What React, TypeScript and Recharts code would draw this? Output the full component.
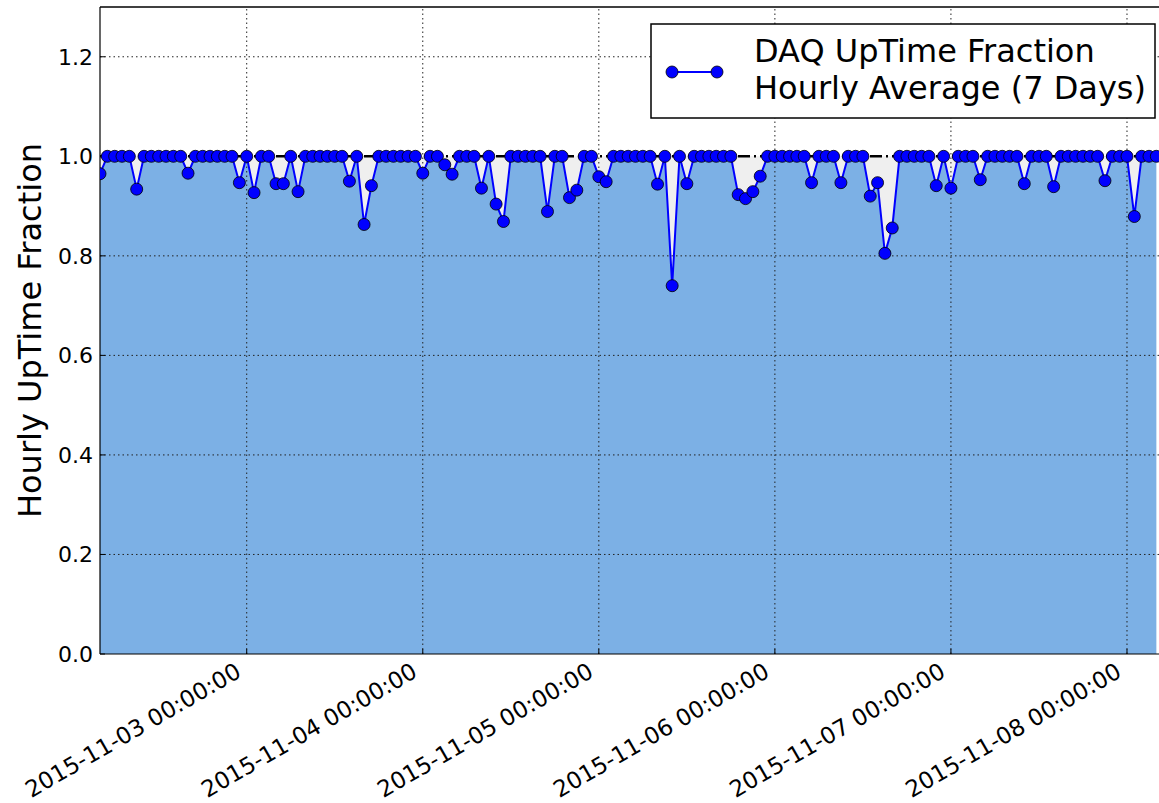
import { Area, ComposedChart, Line, ReferenceLine, XAxis, YAxis } from 'recharts'

// hourly bins starting 2015-11-02 04:00
const uptime = [
  0.965, 1, 1, 1, 1, 0.934, 1, 1, 1, 1, 1, 1, 0.966, 1, 1, 1, 1, 1, 1, 0.947,
  1, 0.927, 1, 1, 0.945, 0.945, 1, 0.929, 1, 1, 1, 1, 1, 1, 0.95, 1,
  0.863, 0.941, 1, 1, 1, 1, 1, 1, 0.966, 1, 1, 0.983, 0.964, 1, 1, 1,
  0.936, 1, 0.904, 0.869, 1, 1, 1, 1, 1, 0.889, 1, 1, 0.917, 0.932, 1, 1,
  0.959, 0.949, 1, 1, 1, 1, 1, 1, 0.944, 1, 0.74, 1, 0.945, 1, 1, 1,
  1, 1, 1, 0.923, 0.915, 0.929, 0.96, 1, 1, 1, 1, 1, 1, 0.947, 1, 1,
  1, 0.947, 1, 1, 1, 0.92, 0.947, 0.805, 0.856, 1, 1, 1, 1, 1, 0.941, 1,
  0.936, 1, 1, 1, 0.953, 1, 1, 1, 1, 1, 0.945, 1, 1, 1, 0.939, 1,
  1, 1, 1, 1, 1, 0.951, 1, 1, 1, 0.879, 1, 1, 1,
]

const dayTicks = [20, 44, 68, 92, 116, 140]
const dayLabels = [
  '2015-11-03 00:00:00',
  '2015-11-04 00:00:00',
  '2015-11-05 00:00:00',
  '2015-11-06 00:00:00',
  '2015-11-07 00:00:00',
  '2015-11-08 00:00:00',
]
const yTicks = [0, 0.2, 0.4, 0.6, 0.8, 1.0, 1.2]
const gridY = [0.2, 0.4, 0.6, 0.8, 1.2]
const legendLines = ['DAQ UpTime Fraction', 'Hourly Average (7 Days)']

const font = 'DejaVu Sans, sans-serif'

const data = uptime.map((v, h) => ({ h, v, full: 1 }))

function DateTick({ x, payload }: any) {
  const label = dayLabels[dayTicks.indexOf(payload.value)] ?? ''
  return (
    <g transform={`translate(${x - 4},${654 + 22})`}>
      <text textAnchor="end" transform="rotate(-30)" fontFamily={font} fontSize={23} fill="#000">
        {label}
      </text>
    </g>
  )
}

function LegendBox() {
  return (
    <svg width={506} height={96} style={{ position: 'absolute', left: 650, top: 23 }}>
      <rect x={1} y={1} width={504} height={94} fill="#fff" stroke="#000" strokeWidth={1.5} />
      <line x1={22} y1={49} x2={67} y2={49} stroke="#0000ff" strokeWidth={2} />
      <circle cx={22} cy={49} r={6} fill="#0000ff" stroke="#000" strokeWidth={0.8} />
      <circle cx={67} cy={49} r={6} fill="#0000ff" stroke="#000" strokeWidth={0.8} />
      <text x={104} y={39} fontFamily={font} fontSize={32} fill="#000">{legendLines[0]}</text>
      <text x={104} y={76} fontFamily={font} fontSize={32} fill="#000">{legendLines[1]}</text>
    </svg>
  )
}

export default function App() {
  return (
    <div style={{ position: 'absolute', left: 0, top: 0, width: 1159, height: 803, overflow: 'hidden', background: '#fff' }}>
      <ComposedChart width={1185} height={803} data={data} margin={{ top: 7, right: 14, bottom: 0, left: 40 }}>
        <XAxis
          dataKey="h"
          type="number"
          domain={[0, 146]}
          allowDataOverflow
          ticks={dayTicks}
          tick={<DateTick />}
          tickSize={-5}
          tickLine={{ stroke: '#000', strokeWidth: 1 }}
          height={149}
          axisLine={{ stroke: '#000', strokeWidth: 1.2 }}
          interval={0}
        />
        <YAxis
          type="number"
          domain={[0, 1.3]}
          ticks={yTicks}
          tickFormatter={(v: number) => v.toFixed(1)}
          width={60}
          tickSize={-5}
          tickMargin={12}
          tickLine={{ stroke: '#000', strokeWidth: 1 }}
          axisLine={{ stroke: '#000', strokeWidth: 1.2 }}
          tick={{ fontFamily: font, fontSize: 22, fill: '#000' }}
          label={{
            value: 'Hourly UpTime Fraction',
            angle: -90,
            position: 'insideLeft',
            offset: -10,
            style: { fontFamily: font, fontSize: 32, fill: '#000', textAnchor: 'middle' },
          }}
        />
        <Area type="linear" dataKey="full" stroke="none" fill="#efefef" fillOpacity={1} isAnimationActive={false} />
        <Area type="linear" dataKey="v" stroke="none" fill="#7cb0e5" fillOpacity={1} isAnimationActive={false} />
        {gridY.map((y) => (
          <ReferenceLine key={`gy${y}`} y={y} stroke="#222" strokeDasharray="1.5 3" strokeWidth={1} />
        ))}
        {dayTicks.map((h) => (
          <ReferenceLine key={`gx${h}`} x={h} stroke="#222" strokeDasharray="1.5 3" strokeWidth={1} />
        ))}
        <ReferenceLine y={1.3} stroke="#000" strokeWidth={1.5} />
        <ReferenceLine y={1} stroke="#000" strokeWidth={2.5} strokeDasharray="12 4 2 4" />
        <Line
          type="linear"
          dataKey="v"
          stroke="#0000ff"
          strokeWidth={2}
          dot={{ r: 6, fill: '#0000ff', stroke: '#000', strokeWidth: 0.8 }}
          isAnimationActive={false}
        />
      </ComposedChart>
      <LegendBox />
    </div>
  )
}
